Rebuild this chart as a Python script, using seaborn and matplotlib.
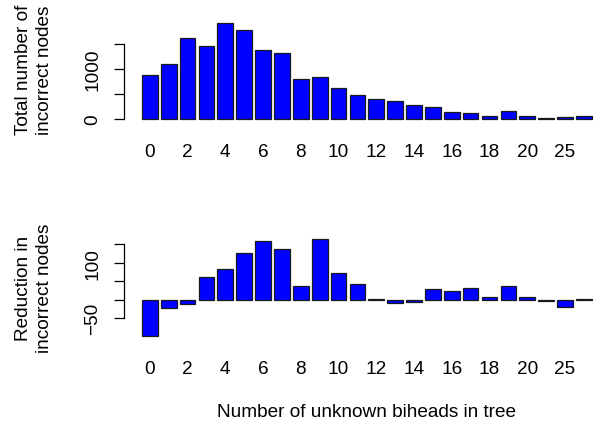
import matplotlib
matplotlib.use('Agg')
import matplotlib.pyplot as plt
import seaborn as sns
import pandas as pd

# Number of unknown biheads in tree (categories along x)
biheads = ['0', '1', '2', '3', '4', '5', '6', '7', '8', '9', '10', '11',
           '12', '13', '14', '15', '16', '17', '18', '19', '20', '21', '25', '27']
# Total number of incorrect nodes
total_incorrect = [870, 1100, 1610, 1450, 1910, 1770, 1370, 1310, 790, 830, 610, 470,
                   385, 350, 275, 225, 135, 110, 50, 150, 50, 15, 30, 50]
# Reduction in incorrect nodes
reduction = [-97, -23, -12, 61, 84, 126, 159, 136, 38, 164, 71, 42,
             1, -10, -5, 29, 23, 32, 8, 36, 8, -4, -20, 2]

top_ticks = [0, 500, 1000, 1500]
top_ticklabels = ['0', '', '1000', '']
bot_ticks = [-50, 0, 50, 100, 150]
bot_ticklabels = ['\u221250', '', '', '100', '']

sns.set_style("white")
plt.rcParams['font.family'] = ['Liberation Sans', 'DejaVu Sans']
plt.rcParams['text.color'] = 'black'
plt.rcParams['xtick.color'] = 'black'
plt.rcParams['ytick.color'] = 'black'

W, H = 596, 427
fig = plt.figure(figsize=(W / 100, H / 100), dpi=100)


def px_axes(left, top, right, bottom):
    return fig.add_axes([left / W, 1 - bottom / H, (right - left) / W, (bottom - top) / H])


ax1 = px_axes(124, 20.2, 609.7, 123.3)
ax2 = px_axes(124, 236.2, 609.7, 340.4)

df = pd.DataFrame({'biheads': biheads, 'total': total_incorrect, 'reduction': reduction})

fs = 13.7
for ax, col, ticks, ticklabels, ylim in [
        (ax1, 'total', top_ticks, top_ticklabels, (-76, 1986)),
        (ax2, 'reduction', bot_ticks, bot_ticklabels, (-107.4, 174.4))]:
    sns.barplot(data=df, x='biheads', y=col, order=biheads, color='#0000ff',
                saturation=1, width=1 / 1.2, edgecolor='#1a1a1a', linewidth=0.9, ax=ax)
    ax.set_xlim(-1.37, 24.37)
    ax.set_ylim(*ylim)
    for s in ['top', 'right', 'bottom']:
        ax.spines[s].set_visible(False)
    ax.spines['left'].set_bounds(ticks[0], ticks[-1])
    ax.spines['left'].set_color('black')
    ax.spines['left'].set_linewidth(0.9)
    ax.set_yticks(ticks)
    ax.set_yticklabels(ticklabels, rotation=90, va='center', fontsize=fs)
    ax.tick_params(axis='y', direction='out', length=7.5, width=0.9, color='black', pad=9, left=True)
    ax.set_xticks(range(len(biheads)))
    ax.set_xticklabels([b if i % 2 == 0 else '' for i, b in enumerate(biheads)], fontsize=fs)
    ax.tick_params(axis='x', length=0, pad=15)
    ax.set_xlabel('')
    ax.set_ylabel('')

fig.text(34 / W, 1 - 70 / H, 'Total number of\nincorrect nodes', rotation=90,
         ha='center', va='center', multialignment='center', fontsize=fs, linespacing=1.25)
fig.text(34 / W, 1 - 288 / H, 'Reduction in\nincorrect nodes', rotation=90,
         ha='center', va='center', multialignment='center', fontsize=fs, linespacing=1.25)
fig.text(366.8 / W, 1 - 413 / H, 'Number of unknown biheads in tree',
         ha='center', va='center', fontsize=fs)

fig.savefig('out.png', dpi=100)
